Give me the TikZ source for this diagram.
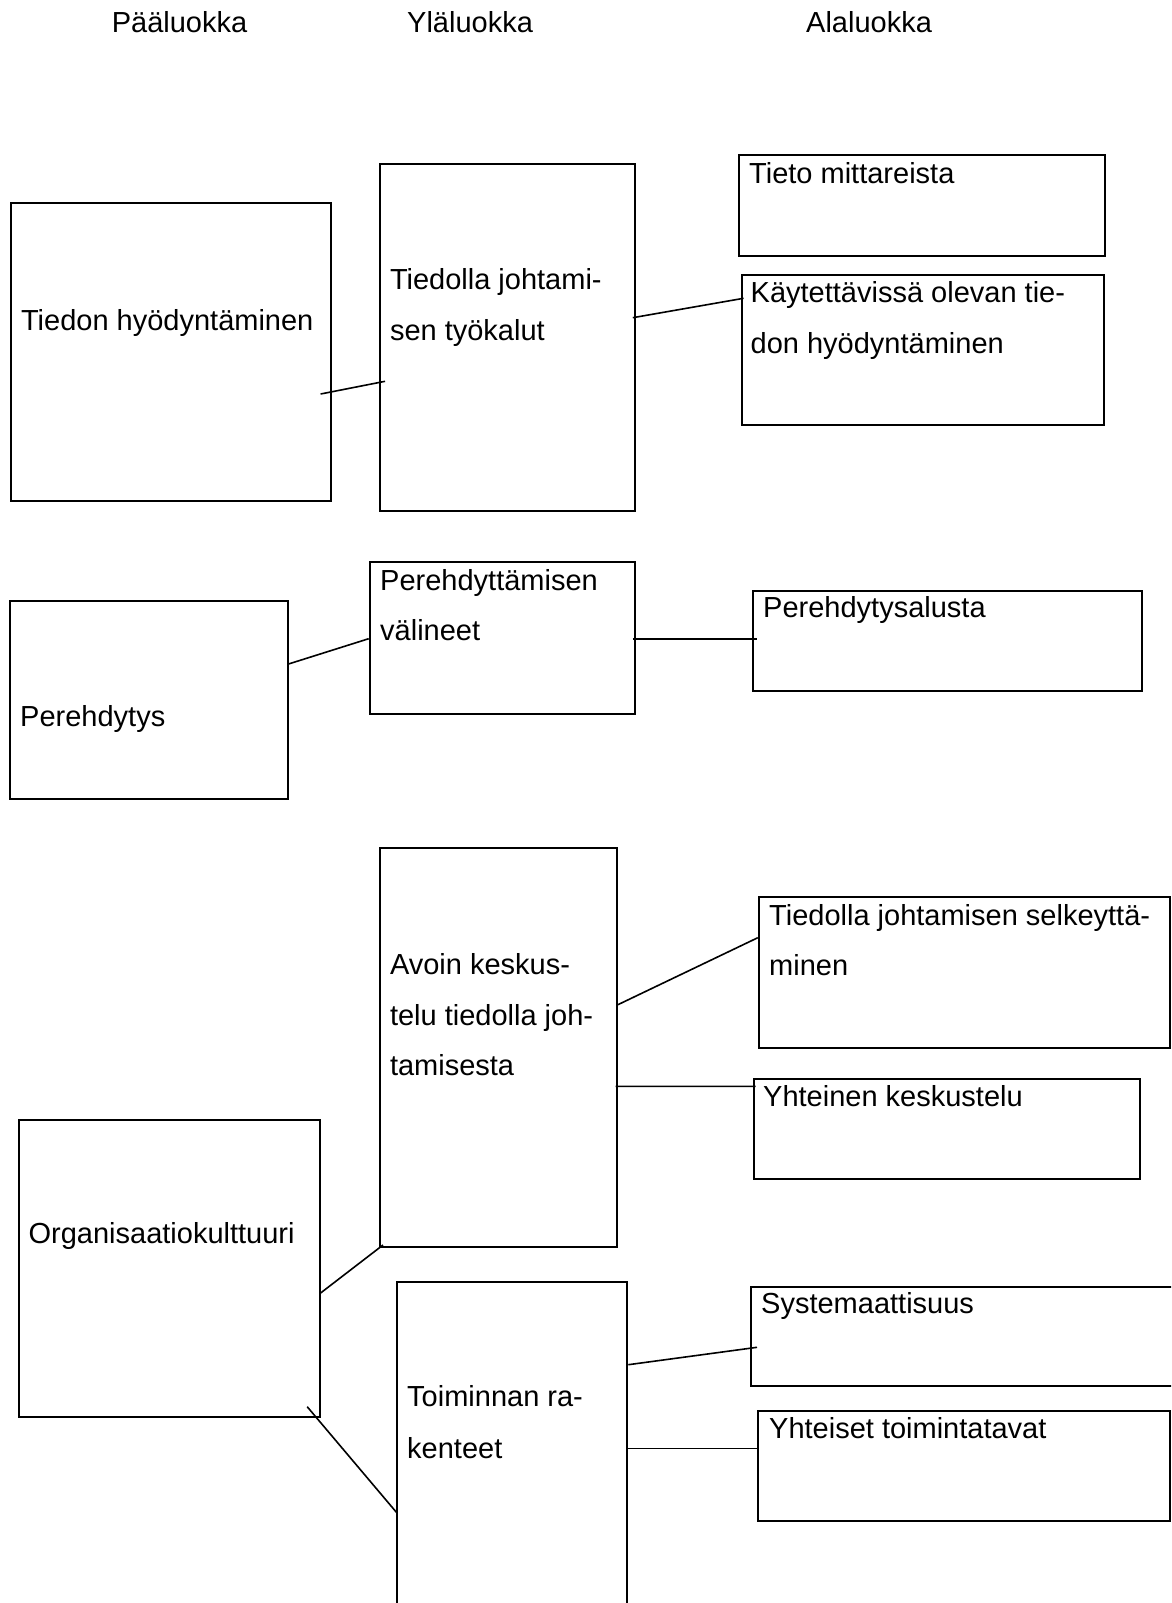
\documentclass[tikz,border=0pt]{standalone}
\usepackage{fontspec}
\setmainfont{Liberation Sans}
\usetikzlibrary{calc,fit}
\tikzset{
  box/.style={draw, line width=2pt, rectangle, inner sep=0pt},
  lbl/.style={anchor=base west, inner sep=0pt, font=\fontsize{29}{50}\selectfont},
  link/.style={line width=1.6pt},
}
\begin{document}
\begin{tikzpicture}[x=1pt, y=-1pt]
\clip (0,0) rectangle (1171,1603);
\fill[white] (0,0) rectangle (1171,1603);

% column headings
\node[lbl] (h1) at (111.6,32.3) {Pääluokka};
\node[lbl] (h2) at (407,32.3) {Yläluokka};
\node[lbl] (h3) at (806,32.3) {Alaluokka};

% boxes
\node[box, fit={(10.5,203.3) (330.8,501)}] (b1) {};
\node[box, fit={(380.1,163.7) (634.8,510.7)}] (b2) {};
\node[box, fit={(738.6,155.3) (1105.3,255.7)}] (b3) {};
\node[box, fit={(741.6,275) (1103.8,425)}] (b4) {};
\node[box, fit={(9.7,600.7) (287.5,799)}] (b5) {};
\node[box, fit={(370.4,562) (634.8,713.7)}] (b6) {};
\node[box, fit={(752.8,591) (1141.8,690.7)}] (b7) {};
\node[box, fit={(380.1,847.7) (616.9,1246.7)}] (b8) {};
\node[box, fit={(758.8,896.7) (1170,1048)}] (b9) {};
\node[box, fit={(753.5,1078.7) (1140.4,1179)}] (b10) {};
\node[box, fit={(18.7,1120) (319.6,1416.7)}] (b11) {};
\node[box, fit={(396.6,1281.7) (627.3,1620)}] (b12) {};
\node[box, fit={(750.5,1287) (1185,1385.7)}] (b13) {};
\node[box, fit={(758,1411) (1169.5,1520.7)}] (b14) {};

% box texts
\node[lbl] (t1) at (20.9,330.7) {Tiedon hyödyntäminen};
\node[lbl] (t2a) at (389.8,289) {Tiedolla johtami-};
\node[lbl] (t2b) at (389.8,340) {sen työkalut};
\node[lbl] (t3) at (749,183.3) {Tieto mittareista};
\node[lbl] (t4a) at (750.5,302.3) {Käytettävissä olevan tie-};
\node[lbl] (t4b) at (750.5,353.3) {don hyödyntäminen};
\node[lbl] (t5) at (20,726.7) {Perehdytys};
\node[lbl] (t6a) at (380,590) {Perehdyttämisen};
\node[lbl] (t6b) at (380,640) {välineet};
\node[lbl] (t7) at (763,617.3) {Perehdytysalusta};
\node[lbl] (t8a) at (389.8,974) {Avoin keskus-};
\node[lbl] (t8b) at (389.8,1025) {telu tiedolla joh-};
\node[lbl] (t8c) at (389.8,1075) {tamisesta};
\node[lbl] (t9a) at (769,925.7) {Tiedolla johtamisen selkeyttä-};
\node[lbl] (t9b) at (769,975.7) {minen};
\node[lbl] (t10) at (763,1106.7) {Yhteinen keskustelu};
\node[lbl] (t11) at (28.4,1243.3) {Organisaatiokulttuuri};
\node[lbl] (t12a) at (407,1406.7) {Toiminnan ra-};
\node[lbl] (t12b) at (407,1458.3) {kenteet};
\node[lbl] (t13) at (761,1313.3) {Systemaattisuus};
\node[lbl] (t14) at (769,1438.3) {Yhteiset toimintatavat};

% connectors
\draw[link] ($(b1.north east)+(-11.2,191.7)$) -- ($(b2.north west)+(6,218.6)$);
\draw[link] ($(b2.north east)+(-3,155)$) -- ($(b4.north west)+(3,24.3)$);
\draw[link] ($(b5.north east)+(0,64.3)$) -- ($(b6.north west)+(-0.7,77.7)$);
\draw[link] ($(b6.north east)+(-3,77.7)$) -- ($(b7.north west)+(5.2,48.7)$);
\draw[link] ($(b8.north east)+(0,158)$) -- ($(b9.north west)+(0,42)$);
\draw[link] ($(b8.north east)+(-2.3,239.6)$) -- ($(b10.north west)+(3,8.6)$);
\draw[link] ($(b11.north east)+(0,174)$) -- ($(b8.south west)+(3.9,-2.7)$);
\draw[link] ($(b11.south east)+(-13.4,-11)$) -- ($(b12.north west)+(1.4,232.3)$);
\draw[link] ($(b12.north east)+(0,84)$) -- ($(b13.north west)+(7.5,61.3)$);
\draw[link] ($(b12.north east)+(0,167.6)$) -- ($(b14.north west)+(0,38.3)$);
\end{tikzpicture}
\end{document}
